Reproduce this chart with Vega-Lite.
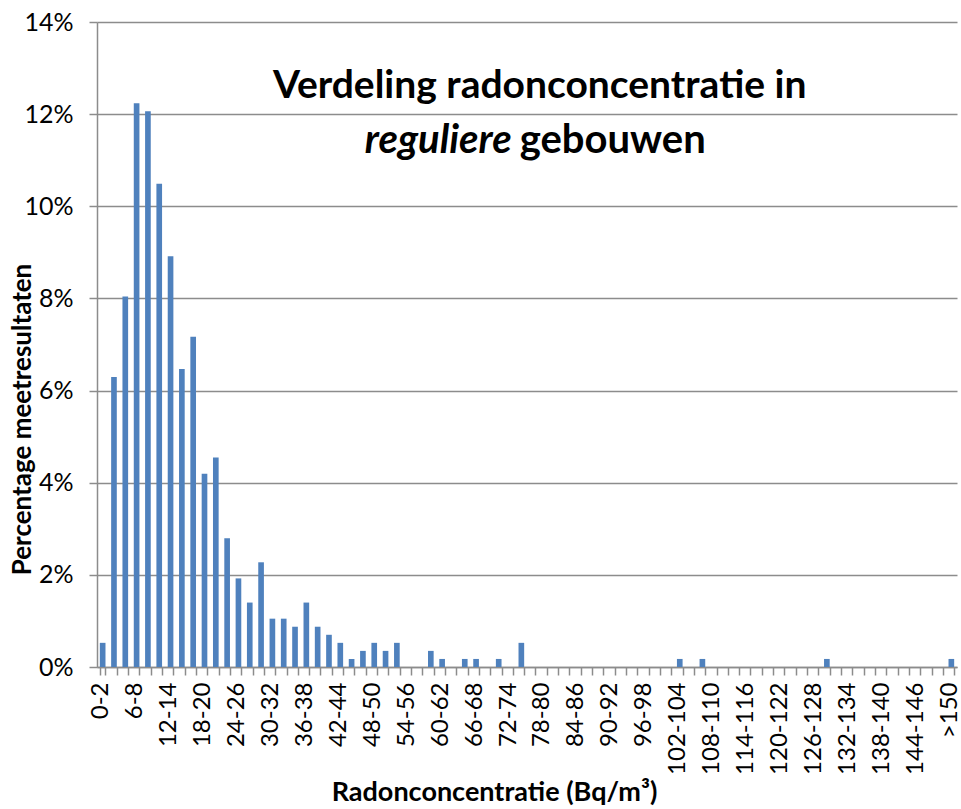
{
  "$schema": "https://vega.github.io/schema/vega-lite/v6.json",
  "width": 860,
  "height": 645,
  "autosize": {"type": "none"},
  "padding": {"left": 97, "top": 22, "right": 4, "bottom": 142},
  "background": "white",
  "config": {"font": "Lato", "view": {"stroke": null}},
  "layer": [
    {
      "data": {"values": [
        {"bin": "0-2", "pct": 0.005245},
        {"bin": "2-4", "pct": 0.062937},
        {"bin": "4-6", "pct": 0.080420},
        {"bin": "6-8", "pct": 0.122378},
        {"bin": "8-10", "pct": 0.120629},
        {"bin": "10-12", "pct": 0.104895},
        {"bin": "12-14", "pct": 0.089161},
        {"bin": "14-16", "pct": 0.064685},
        {"bin": "16-18", "pct": 0.071678},
        {"bin": "18-20", "pct": 0.041958},
        {"bin": "20-22", "pct": 0.045455},
        {"bin": "22-24", "pct": 0.027972},
        {"bin": "24-26", "pct": 0.019231},
        {"bin": "26-28", "pct": 0.013986},
        {"bin": "28-30", "pct": 0.022727},
        {"bin": "30-32", "pct": 0.010490},
        {"bin": "32-34", "pct": 0.010490},
        {"bin": "34-36", "pct": 0.008741},
        {"bin": "36-38", "pct": 0.013986},
        {"bin": "38-40", "pct": 0.008741},
        {"bin": "40-42", "pct": 0.006993},
        {"bin": "42-44", "pct": 0.005245},
        {"bin": "44-46", "pct": 0.001748},
        {"bin": "46-48", "pct": 0.003497},
        {"bin": "48-50", "pct": 0.005245},
        {"bin": "50-52", "pct": 0.003497},
        {"bin": "52-54", "pct": 0.005245},
        {"bin": "54-56", "pct": 0},
        {"bin": "56-58", "pct": 0},
        {"bin": "58-60", "pct": 0.003497},
        {"bin": "60-62", "pct": 0.001748},
        {"bin": "62-64", "pct": 0},
        {"bin": "64-66", "pct": 0.001748},
        {"bin": "66-68", "pct": 0.001748},
        {"bin": "68-70", "pct": 0},
        {"bin": "70-72", "pct": 0.001748},
        {"bin": "72-74", "pct": 0},
        {"bin": "74-76", "pct": 0.005245},
        {"bin": "76-78", "pct": 0},
        {"bin": "78-80", "pct": 0},
        {"bin": "80-82", "pct": 0},
        {"bin": "82-84", "pct": 0},
        {"bin": "84-86", "pct": 0},
        {"bin": "86-88", "pct": 0},
        {"bin": "88-90", "pct": 0},
        {"bin": "90-92", "pct": 0},
        {"bin": "92-94", "pct": 0},
        {"bin": "94-96", "pct": 0},
        {"bin": "96-98", "pct": 0},
        {"bin": "98-100", "pct": 0},
        {"bin": "100-102", "pct": 0},
        {"bin": "102-104", "pct": 0.001748},
        {"bin": "104-106", "pct": 0},
        {"bin": "106-108", "pct": 0.001748},
        {"bin": "108-110", "pct": 0},
        {"bin": "110-112", "pct": 0},
        {"bin": "112-114", "pct": 0},
        {"bin": "114-116", "pct": 0},
        {"bin": "116-118", "pct": 0},
        {"bin": "118-120", "pct": 0},
        {"bin": "120-122", "pct": 0},
        {"bin": "122-124", "pct": 0},
        {"bin": "124-126", "pct": 0},
        {"bin": "126-128", "pct": 0},
        {"bin": "128-130", "pct": 0.001748},
        {"bin": "130-132", "pct": 0},
        {"bin": "132-134", "pct": 0},
        {"bin": "134-136", "pct": 0},
        {"bin": "136-138", "pct": 0},
        {"bin": "138-140", "pct": 0},
        {"bin": "140-142", "pct": 0},
        {"bin": "142-144", "pct": 0},
        {"bin": "144-146", "pct": 0},
        {"bin": "146-148", "pct": 0},
        {"bin": "148-150", "pct": 0},
        {"bin": ">150", "pct": 0.001748}
      ]},
      "mark": {"type": "bar", "color": "#4F81BD"},
      "encoding": {
        "x": {
          "field": "bin", "type": "nominal", "sort": null,
          "scale": {"paddingInner": 0.5, "paddingOuter": 0.25},
          "axis": {
            "title": "Radonconcentratie (Bq/m³)",
            "labelAngle": 270, "labelAlign": "right", "labelBaseline": "middle",
            "labelFontSize": 24, "labelColor": "black", "labelPadding": 7,
            "labelOffset": -2,
            "labelOverlap": false,
            "labelExpr": "datum.value == '>150' || parseInt(split(datum.value, '-')[0]) % 6 == 0 ? datum.label : ''",
            "tickBand": "extent", "tickSize": 8, "tickColor": "#8c8c8c", "tickWidth": 1.5,
            "domainColor": "#8c8c8c", "domainWidth": 1.5, "grid": false,
            "titleFontSize": 27, "titleFontWeight": "bold", "titleColor": "black",
            "titleX": 397, "titleY": 133, "titleBaseline": "alphabetic", "titleAlign": "center"
          }
        },
        "y": {
          "field": "pct", "type": "quantitative",
          "scale": {"domain": [0, 0.14], "nice": false},
          "axis": {
            "values": [0, 0.02, 0.04, 0.06, 0.08, 0.1, 0.12, 0.14],
            "format": ".0%", "grid": true, "gridColor": "#8c8c8c", "gridWidth": 1.5,
            "domainColor": "#8c8c8c", "domainWidth": 1.5,
            "tickColor": "#8c8c8c", "tickSize": 8, "tickWidth": 1.5,
            "labelFontSize": 25, "labelColor": "black", "labelPadding": 16,
            "title": "Percentage meetresultaten", "titleFontSize": 26, "titleFontWeight": "bold",
            "titleColor": "black", "titleX": -75, "titleY": 397, "titleAngle": 270,
            "titleBaseline": "middle", "titleAlign": "center"
          }
        }
      }
    },
    {
      "data": {"values": [{}]},
      "mark": {"type": "text", "text": "Verdeling radonconcentratie in", "fontSize": 39, "fontWeight": "bold", "align": "center", "baseline": "alphabetic", "dx": 7, "color": "black"},
      "encoding": {"x": {"datum": "76-78", "type": "nominal"}, "y": {"datum": 0.1234, "type": "quantitative"}}
    },
    {
      "data": {"values": [{}]},
      "mark": {"type": "text", "text": "reguliere", "fontSize": 40, "fontWeight": "bold", "fontStyle": "italic", "align": "right", "baseline": "alphabetic", "dx": -21, "color": "black"},
      "encoding": {"x": {"datum": "76-78", "type": "nominal"}, "y": {"datum": 0.1116, "type": "quantitative"}}
    },
    {
      "data": {"values": [{}]},
      "mark": {"type": "text", "text": "gebouwen", "fontSize": 40, "fontWeight": "bold", "align": "left", "baseline": "alphabetic", "dx": -13, "color": "black"},
      "encoding": {"x": {"datum": "76-78", "type": "nominal"}, "y": {"datum": 0.1116, "type": "quantitative"}}
    }
  ]
}
